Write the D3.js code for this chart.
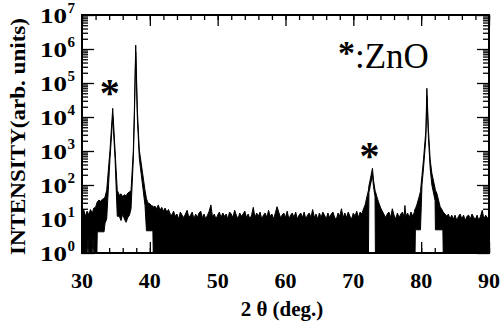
<!DOCTYPE html>
<html><head><meta charset="utf-8">
<script src="https://cdn.jsdelivr.net/npm/d3@7"></script>
<style>body{margin:0;background:#fff}svg{display:block}</style>
</head><body>
<svg id="c" width="501" height="323"></svg>
<script>
// ---- data: [2theta (deg), upper envelope, lower envelope] of the recorded intensity ----
const scanLow = [
 [30,14,1],[30.25,19,1],[30.5,12,1],[30.75,17,1],[30.9,15,3],[31,13,1],[31.25,19,1],[31.5,15,1],[31.6,17,3],[31.75,21,1],
 [32,22,1],[32.2,30,1],[32.25,32,4.2],[32.5,36,4.2],[32.75,33,4.2],[33,38,4.2],[33.25,40,4.2],[33.4,45,7.6],[33.64,70,10],
 [34.13,1070,600],[34.53,18000,10000],[34.87,1070,600],[35.2,70,12],[35.5,50,12],[35.75,55,9],[36,45,14],[36.25,52,10],
 [36.5,48,8],[36.75,58,11],[37,62,13],[37.23,70,20],[37.57,1070,600],[37.72,16000,9000],[37.92,1300000,800000],
 [38.16,16000,9000],[38.45,1070,600],[39.29,70,25],[39.5,40,4.5],[39.7,30,4.5],[40,28,4.5],[40.25,25,4.5],[40.45,24,4.5],
 [40.5,22,1],[40.75,24,1],[41,20,1],[41.25,26,1],[41.5,18,1],[41.75,22,1],[42,17,1],[42.25,21,1],[42.5,16,1],[42.75,19,1],[43,14,1]
];
const scanMid = [
 [43.25,13,1],[43.5,17,1],[43.75,12,1],
 [44,14,1],[44.25,10,1],[44.5,16,1],[44.75,13,1],
 [45,11,1],[45.25,14,1],[45.5,18,1],[45.75,11,1],
 [46,13,1],[46.25,16,1],[46.5,10,1],[46.75,14,1],
 [47,11,1],[47.25,15,1],[47.5,17,1],[47.75,11,1],
 [48,14,1],[48.25,10,1],[48.5,13,1],[48.75,17,1],
 [49,26,1],[49.25,11,1],[49.5,14,1],[49.75,10,1],
 [50,13,1],[50.25,16,1],[50.5,11,1],[50.75,15,1],
 [51,12,1],[51.25,14,1],[51.5,10,1],[51.75,16,1],
 [52,14,1],[52.25,11,1],[52.5,18,1],[52.75,13,1],
 [53,10,1],[53.25,15,1],[53.5,12,1],[53.75,14,1],
 [54,17,1],[54.25,11,1],[54.5,14,1],[54.75,10,1],
 [55,13,1],[55.25,22,1],[55.5,11,1],[55.75,15,1],
 [56,12,1],[56.25,16,1],[56.5,10,1],[56.75,13,1],
 [57,15,1],[57.25,11,1],[57.5,18,1],[57.75,12,1],
 [58,14,1],[58.25,10,1],[58.5,15,1],[58.75,23,1],
 [59,16,1],[59.25,11,1],[59.5,13,1],[59.75,15,1],
 [60,11,1],[60.25,17,1],[60.5,10,1],[60.75,13,1],
 [61,15,1],[61.25,11,1],[61.5,16,1],[61.75,10,1],
 [62,13,1],[62.25,15,1],[62.5,11,1],[62.75,16,1],
 [63,10,1],[63.25,13,1],[63.5,15,1],[63.75,11,1],
 [64,19,1],[64.25,11,1],[64.5,14,1],[64.75,10,1],
 [65,15,1],[65.25,11,1],[65.5,16,1],[65.75,13,1],
 [66,10,1],[66.25,15,1],[66.5,11,1],[66.75,14,1],
 [67,16,1],[67.25,11,1],[67.5,10,1],[67.75,15,1],
 [68,12,1],[68.25,20,1],[68.5,11,1],[68.75,15,1],
 [69,11,1],[69.25,16,1],[69.5,12,1],[69.75,10,1],
 [70,15,1],[70.25,12,1],[70.5,17,1],[70.75,11,1]
];
const scanHigh = [
 [71,16,1],[71.25,14,1],[71.5,20,1],[71.74,26,1],[72,45,1],[72.23,70,1],[72.3,95,60],[72.48,140,90],[72.82,310,200],
 [72.97,140,90],[73.2,70,45],[73.25,65,1],[73.47,45,1],[73.75,30,1],[74,22,1],[74.2,18,1],
 [74.5,14,1],[74.75,11,1],[75,14,1],[75.25,16,1],[75.5,11,1],[75.75,20,1],[76,13,1],[76.25,10,1],[76.5,15,1],[76.75,11,1],
 [77,14,1],[77.25,16,1],[77.5,11,1],[77.6,25,1],[77.75,12,1],[78,15,1],[78.25,11,1],[78.5,16,1],[78.75,12,1],[79,16,1],
 [79.1,20,1],[79.15,20,4.8],[79.36,26,4.8],[79.7,45,4.8],[79.9,65,4.8],[80.12,190,100],[80.34,550,300],[80.7,4200,2500],
 [80.84,70000,40000],[81.07,4200,2500],[81.33,550,300],[81.58,220,100],[82.05,80,35],[82.1,70,4.8],[82.3,58,4.8],
 [82.8,23,4.8],[83.2,17,4.8],[83.25,16,1],[83.5,14,1],[83.8,12,1],
 [84,14,1],[84.25,10,1],[84.5,13,1],[84.75,10,1],[85,13,1],[85.25,9,1],[85.5,12,1],[85.75,14,1],
 [86,10,1],[86.25,13,1],[86.5,9,1],[86.75,12,1],[87,13,1],[87.25,10,1],[87.5,14,1],[87.75,11,1],
 [88,10,1],[88.25,13,1],[88.5,9,1],[88.75,12,1],[89,18,1],[89.25,10,1],[89.5,13,1],[89.75,11,1],[90,10,1]
];
const xTickLabels = [30,40,50,60,70,80,90];
const xMinorTicks = [30,32,34,36,38,40,42,44,46,48,50,52,54,56,58,60,62,64,66,68,70,72,74,76,78,80,82,84,86,88,90];
const yExponents = [0,1,2,3,4,5,6,7];
const znoPeaks = [34.53, 72.82];   // peaks marked with *
const yTitle = "INTENSITY(arb. units)";
const xTitle = "2 θ (deg.)";
const legendText = ":ZnO";

// ---- drawing ----
const L=82,R=489,T=15,B=253;
const FONT="'Liberation Serif'";
const svg=d3.select("#c");
const x=d3.scaleLinear().domain([30,90]).range([L,R]);
const y=d3.scaleLog().domain([1,1e7]).range([B,T]);

const rows=[...scanLow,...scanMid,...scanHigh].map(r=>({t:r[0],hi:r[1],lo:r[2]}));

svg.append("clipPath").attr("id","clip").append("rect").attr("x",L).attr("y",T).attr("width",R-L).attr("height",B-T);
const area=d3.area().x(d=>x(d.t)).y0(d=>y(d.lo)).y1(d=>y(d.hi));
svg.append("path").attr("clip-path","url(#clip)").attr("d",area(rows))
  .attr("fill","#000").attr("stroke","#000").attr("stroke-width",1).attr("stroke-linejoin","round");

// ticks via d3 axes (inward)
const minorY=[];
for(let d=0;d<7;d++) for(let k=2;k<=9;k++) minorY.push(k*Math.pow(10,d));
const majorY=yExponents.map(e=>Math.pow(10,e));
function styleAxis(g){g.select(".domain").remove();g.selectAll("line").attr("stroke","#000").attr("stroke-width",1.3);g.selectAll("text").remove();}
svg.append("g").attr("transform",`translate(0,${B})`).call(d3.axisBottom(x).tickValues(xMinorTicks).tickSize(-5)).call(styleAxis);
svg.append("g").attr("transform",`translate(0,${B})`).call(d3.axisBottom(x).tickValues(xTickLabels).tickSize(-11)).call(styleAxis);
svg.append("g").attr("transform",`translate(0,${T})`).call(d3.axisTop(x).tickValues(xMinorTicks).tickSize(-5)).call(styleAxis);
svg.append("g").attr("transform",`translate(0,${T})`).call(d3.axisTop(x).tickValues(xTickLabels).tickSize(-11)).call(styleAxis);
svg.append("g").attr("transform",`translate(${L},0)`).call(d3.axisLeft(y).tickValues(minorY).tickSize(-6)).call(styleAxis);
svg.append("g").attr("transform",`translate(${L},0)`).call(d3.axisLeft(y).tickValues(majorY).tickSize(-12)).call(styleAxis);
svg.append("g").attr("transform",`translate(${R},0)`).call(d3.axisRight(y).tickValues(minorY).tickSize(-6)).call(styleAxis);
svg.append("g").attr("transform",`translate(${R},0)`).call(d3.axisRight(y).tickValues(majorY).tickSize(-12)).call(styleAxis);

svg.append("rect").attr("x",L).attr("y",T).attr("width",R-L).attr("height",B-T)
  .attr("fill","none").attr("stroke","#000").attr("stroke-width",2);

// x tick labels
svg.append("g").selectAll("text").data(xTickLabels).join("text")
  .attr("x",d=>x(d)).attr("y",288).attr("text-anchor","middle").style("font-family",FONT)
  .attr("font-weight","bold").attr("font-size",22).text(d=>d);
// y tick labels 10^n
const yl=svg.append("g").selectAll("g").data(yExponents).join("g");
yl.append("text").attr("x",67).attr("y",e=>y(Math.pow(10,e))+7.5).attr("text-anchor","end").style("font-family",FONT)
  .attr("font-weight","bold").attr("font-size",21).attr("textLength",27).attr("lengthAdjust","spacingAndGlyphs").text("10");
yl.append("text").attr("x",67.5).attr("y",e=>y(Math.pow(10,e))-2).attr("text-anchor","start").style("font-family",FONT)
  .attr("font-weight","bold").attr("font-size",15).text(e=>e);

// titles
svg.append("text").attr("transform",`translate(25,${(18+255)/2}) rotate(-90)`).attr("text-anchor","middle").style("font-family",FONT)
  .attr("font-weight","bold").attr("font-size",21)
  .attr("textLength",237).attr("lengthAdjust","spacingAndGlyphs").text(yTitle);
svg.append("text").attr("x",282).attr("y",316).attr("text-anchor","middle").style("font-family",FONT)
  .attr("font-weight","bold").attr("font-size",21).text(xTitle);

// ZnO markers
const markY=[106,169];
svg.append("g").selectAll("text").data(znoPeaks).join("text")
  .attr("x",d=>x(d)-3).attr("y",(d,i)=>markY[i]).attr("text-anchor","middle").style("font-family",FONT)
  .attr("font-weight","bold").attr("font-size",40).text("*");
svg.append("text").attr("x",346.5).attr("y",64).attr("text-anchor","middle").style("font-family",FONT)
  .attr("font-weight","bold").attr("font-size",34).text("*");
svg.append("text").attr("x",355).attr("y",68).style("font-family",FONT).attr("font-size",35).text(legendText);
</script>
</body></html>
